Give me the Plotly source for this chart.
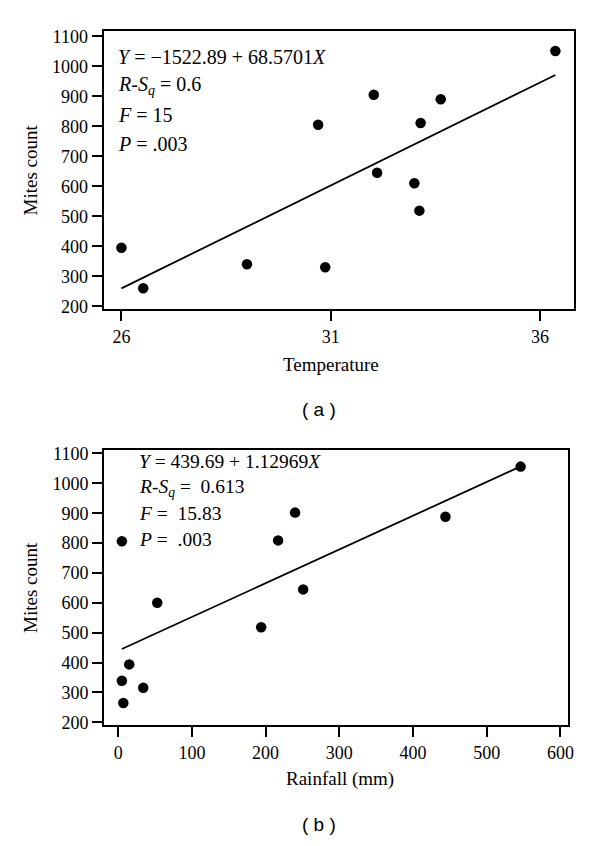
import plotly.graph_objects as go

# ---- data ----
temperature = [26.0, 26.52, 29.0, 30.87, 30.70, 32.03, 32.11, 33.0, 33.15, 33.63, 36.37, 33.12]
count_a = [395, 260, 340, 330, 805, 905, 645, 610, 811, 890, 1051, 519]
coef_a = (-1522.89, 68.5701)

rainfall = [5, 53, 217, 240, 251, 194, 444, 546, 15, 5, 34, 7]
count_b = [806, 600, 809, 902, 645, 518, 888, 1056, 394, 339, 316, 265]
coef_b = (439.69, 1.12969)

ticks_a_x = [26, 31, 36]
ticks_y = [200, 300, 400, 500, 600, 700, 800, 900, 1000, 1100]
ticks_b_x = [0, 100, 200, 300, 400, 500, 600]

stats_a = ["<i>Y</i> = −1522.89 + 68.5701<i>X</i>",
           "<i>R</i>-<i>S</i><sub><i>q</i></sub> = 0.6",
           "<i>F</i> = 15",
           "<i>P</i> = .003"]
stats_b = ["<i>Y</i> = 439.69 + 1.12969<i>X</i>",
           "<i>R</i>-<i>S</i><sub><i>q</i></sub> =  0.613",
           "<i>F</i> =  15.83",
           "<i>P</i> =  .003"]

W, H = 600, 846
OFF = 8  # page body margin
SERIF = "Liberation Serif, Times New Roman, serif"
SANS = "Liberation Sans, Arial, sans-serif"

def px_x(p):
    return (p - OFF) / W

def px_y(p):
    return 1 - (p - OFF) / H

fig = go.Figure()

# panel a
fig.add_trace(go.Scatter(x=temperature, y=count_a, mode="markers",
                         marker=dict(color="black", size=10.5), xaxis="x", yaxis="y",
                         showlegend=False))
xa0, xa1 = min(temperature), max(temperature)
fig.add_trace(go.Scatter(x=[xa0, xa1], y=[coef_a[0] + coef_a[1] * xa0, coef_a[0] + coef_a[1] * xa1],
                         mode="lines", line=dict(color="black", width=1.8),
                         xaxis="x", yaxis="y", showlegend=False))
# panel b
fig.add_trace(go.Scatter(x=rainfall, y=count_b, mode="markers",
                         marker=dict(color="black", size=10.5), xaxis="x2", yaxis="y2",
                         showlegend=False))
xb0, xb1 = min(rainfall), max(rainfall)
fig.add_trace(go.Scatter(x=[xb0, xb1], y=[coef_b[0] + coef_b[1] * xb0, coef_b[0] + coef_b[1] * xb1],
                         mode="lines", line=dict(color="black", width=1.8),
                         xaxis="x2", yaxis="y2", showlegend=False))

axis_common = dict(showline=True, linecolor="black", linewidth=2, mirror=True,
                   ticks="outside", ticklen=10, tickwidth=2, tickcolor="black",
                   showgrid=False, zeroline=False,
                   tickfont=dict(family=SERIF, size=18, color="black"))

fig.update_layout(
    width=W, height=H, margin=dict(l=0, r=0, t=0, b=0),
    paper_bgcolor="white", plot_bgcolor="white",
    xaxis=dict(domain=[px_x(104.5), px_x(579.5)], range=[25.572, 36.81],
               tickvals=ticks_a_x, anchor="y", **axis_common),
    yaxis=dict(domain=[px_y(308), px_y(25.5)], range=[191, 1117],
               tickvals=ticks_y, anchor="x", **axis_common),
    xaxis2=dict(domain=[px_x(105), px_x(573.3)], range=[-19.2, 609.8],
                tickvals=ticks_b_x, anchor="y2", **axis_common),
    yaxis2=dict(domain=[px_y(731), px_y(451.5)], range=[191, 1111],
                tickvals=ticks_y, anchor="x2", **axis_common),
)

ann = []
def text(x, y, s, font, size, **kw):
    ann.append(dict(x=px_x(x), y=px_y(y), xref="paper", yref="paper", text=s,
                    showarrow=False, font=dict(family=font, size=size, color="black"), **kw))

# stats text
for i, s in enumerate(stats_a):
    text(116.7, 51.7 + i * 29.5, s, SERIF, 20, xanchor="left", yanchor="middle")
for i, s in enumerate(stats_b):
    text(138.5, 463.3 + i * 26.3, s, SERIF, 19.5, xanchor="left", yanchor="middle")

# axis titles
text(30.6, (25.5 + 308) / 2, "Mites count", SERIF, 19, textangle=-90, xanchor="center", yanchor="middle")
text(334, 364, "Temperature", SERIF, 19, xanchor="center", yanchor="middle")
text(322.6, 410, "( a )", SANS, 19, xanchor="center", yanchor="middle")
text(30.6, (451.5 + 731) / 2, "Mites count", SERIF, 19, textangle=-90, xanchor="center", yanchor="middle")
text(343, 785.7, "Rainfall (mm)", SERIF, 19, xanchor="center", yanchor="middle")
text(322.6, 831.7, "( b )", SANS, 19, xanchor="center", yanchor="middle")

fig.update_layout(annotations=ann)
fig.write_html("out.html")
